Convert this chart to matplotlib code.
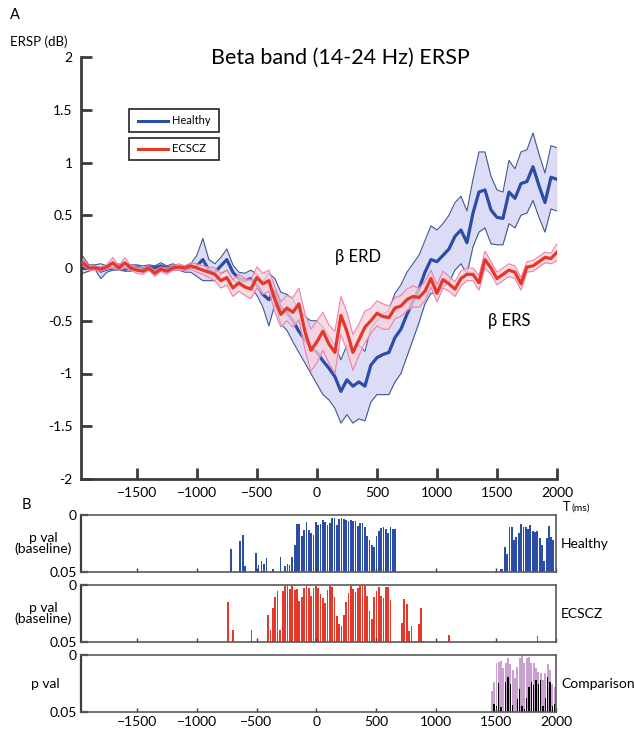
import numpy as np
import matplotlib
matplotlib.use("Agg")
import matplotlib.pyplot as plt
from matplotlib.patches import Rectangle
from matplotlib.lines import Line2D

plt.rcParams['font.family'] = ['Lato', 'DejaVu Sans']

# ---------------- data ----------------
time_ms = np.arange(-1950, 2001, 50)

healthy_mean = [0.03, 0.0, 0.01, -0.03, -0.01, 0.0, 0.01, -0.01, 0.0, 0.01,
                -0.01, 0.01, 0.0, 0.02, 0.0, 0.01, 0.0, -0.01, 0.0, 0.02,
                0.08, -0.02, -0.04, 0.02, 0.08, -0.04, -0.1, -0.12, -0.1, -0.16,
                -0.25, -0.3, -0.22, -0.38, -0.42, -0.5, -0.6, -0.68, -0.75, -0.8,
                -0.88, -0.95, -1.03, -1.17, -1.06, -1.12, -1.08, -1.12, -0.92, -0.85,
                -0.82, -0.8, -0.66, -0.58, -0.44, -0.32, -0.2, -0.04, 0.08, 0.06,
                0.12, 0.18, 0.3, 0.36, 0.24, 0.52, 0.72, 0.74, 0.55, 0.48,
                0.47, 0.72, 0.66, 0.8, 0.82, 0.96, 0.78, 0.62, 0.86, 0.84]
healthy_sem = [0.08, 0.03, 0.02, 0.07, 0.03, 0.02, 0.03, 0.02, 0.03, 0.02,
               0.03, 0.02, 0.02, 0.03, 0.02, 0.03, 0.02, 0.03, 0.04, 0.1,
               0.2, 0.1, 0.08, 0.08, 0.1, 0.07, 0.06, 0.07, 0.08, 0.1,
               0.12, 0.25, 0.12, 0.15, 0.17, 0.2, 0.2, 0.22, 0.25, 0.3,
               0.32, 0.3, 0.3, 0.3, 0.33, 0.35, 0.35, 0.33, 0.35, 0.35,
               0.38, 0.4, 0.42, 0.42, 0.4, 0.36, 0.32, 0.3, 0.32, 0.3,
               0.3, 0.32, 0.32, 0.32, 0.3, 0.32, 0.38, 0.36, 0.32, 0.26,
               0.25, 0.3, 0.28, 0.3, 0.3, 0.32, 0.3, 0.28, 0.3, 0.3]
ecscz_mean = [0.05, 0.0, 0.0, -0.01, 0.01, 0.05, 0.0, 0.05, 0.0, -0.02,
              -0.03, 0.0, -0.05, -0.01, -0.03, 0.0, 0.01, 0.0, 0.02, 0.0,
              -0.02, -0.04, -0.06, -0.12, -0.09, -0.19, -0.14, -0.18, -0.2, -0.09,
              -0.15, -0.12, -0.3, -0.44, -0.38, -0.42, -0.34, -0.6, -0.78, -0.7,
              -0.6, -0.72, -0.8, -0.45, -0.6, -0.8, -0.68, -0.56, -0.5, -0.43,
              -0.46, -0.47, -0.38, -0.36, -0.3, -0.27, -0.28, -0.22, -0.1, -0.24,
              -0.11, -0.15, -0.2, -0.1, -0.06, -0.06, -0.14, 0.08, 0.0, -0.1,
              -0.06, -0.02, -0.04, -0.15, 0.01, 0.02, 0.06, 0.1, 0.09, 0.15]
ecscz_sem = [0.03, 0.02, 0.02, 0.02, 0.02, 0.05, 0.02, 0.05, 0.02, 0.03,
             0.03, 0.02, 0.03, 0.02, 0.03, 0.02, 0.03, 0.02, 0.03, 0.04,
             0.04, 0.05, 0.06, 0.07, 0.07, 0.08, 0.08, 0.08, 0.09, 0.1,
             0.1, 0.1, 0.12, 0.12, 0.12, 0.14, 0.15, 0.17, 0.2, 0.2,
             0.18, 0.18, 0.2, 0.18, 0.18, 0.17, 0.15, 0.15, 0.12, 0.12,
             0.12, 0.11, 0.1, 0.1, 0.1, 0.1, 0.09, 0.09, 0.08, 0.08,
             0.08, 0.07, 0.07, 0.07, 0.06, 0.06, 0.07, 0.08, 0.06, 0.06,
             0.06, 0.06, 0.06, 0.06, 0.05, 0.05, 0.05, 0.05, 0.05, 0.08]

healthy_p_t = [-715, -640, -616, -596, -503, -483, -459, -439, -417, -360,
               -299, -260, -241, -225, -202, -180, -161, -142,
               -123, -103, -83, -64, -44, -25, -5, 14, 34, 53, 73, 92, 112, 131,
               151, 170, 190, 209, 229, 248, 268, 287, 307, 326, 346, 365, 385,
               404, 424, 443, 463, 482, 502, 521, 541, 560, 580, 599, 619, 638, 658,
               1539, 1553, 1572, 1592, 1611, 1631, 1650, 1669, 1689, 1708, 1728, 1747,
               1767, 1786, 1806, 1825, 1844, 1864, 1883, 1903, 1922, 1942, 1961, 1975]
healthy_p = [0.030, 0.023, 0.0175, 0.045, 0.033, 0.044, 0.040, 0.043, 0.0375, 0.047,
             0.037, 0.045, 0.043, 0.044, 0.037, 0.026, 0.008, 0.008,
             0.0185, 0.0132, 0.0059, 0.0132, 0.0162, 0.0176, 0.0059, 0.0088, 0.0082, 0.0044,
             0.0059, 0.0088, 0.0074, 0.0029, 0.0029, 0.0088, 0.0035, 0.0029, 0.0038, 0.0044,
             0.005, 0.0044, 0.0053, 0.005, 0.0094, 0.0068, 0.0074, 0.0109, 0.0185, 0.0215,
             0.0259, 0.0279, 0.0185, 0.0141, 0.0118, 0.0109, 0.0126, 0.0162, 0.0109, 0.0126,
             0.0126,
             0.0476, 0.047, 0.0285, 0.0338, 0.0103, 0.0103, 0.0215, 0.0197, 0.0162, 0.0079,
             0.0103, 0.0103, 0.0126, 0.0088, 0.0138, 0.0147, 0.0138, 0.0206, 0.0265, 0.0406,
             0.0200, 0.0097, 0.0197, 0.0215]

ecscz_p_t = [-740, -698, -541, -522, -404, -384, -362, -343, -324, -302, -282, -260,
             -241, -222, -202, -180, -161,
             -142, -122, -103, -83, -64, -44, -25, -5, 14, 34, 53, 73, 92, 112, 131,
             151, 170, 190, 209, 229, 248, 268, 287, 307, 326, 346, 365, 385, 404, 424,
             443, 463, 482, 502, 521, 541, 560, 580, 599, 619,
             714, 734, 753, 772, 794, 813, 854, 874, 893, 1110, 1846]
ecscz_p = [0.0153, 0.0397, 0.0397, 0.049, 0.0265, 0.0397, 0.0206, 0.0109, 0.0053, 0.0397,
           0.0053, 0.0006, 0.0003, 0.0035, 0.0006, 0.0044, 0.0035,
           0.0141, 0.0103, 0.0029, 0.0009, 0.0024, 0.0094, 0.0024, 0.0009, 0.0029, 0.0082,
           0.0118, 0.0162, 0.0044, 0.0009, 0.0015, 0.0103, 0.0271, 0.0338, 0.0362, 0.0259,
           0.0147, 0.0074, 0.0009, 0.0035, 0.0059, 0.0029, 0.0009, 0.0003, 0.0009, 0.0094,
           0.0229, 0.0294, 0.0103, 0.005, 0.0015, 0.0094, 0.0118, 0.0015, 0.0015, 0.0132,
           0.0332, 0.0126, 0.0171, 0.0406, 0.036, 0.049, 0.0338, 0.0206, 0.0488, 0.0435, 0.045]

comp_t = [1464, 1483, 1503, 1522, 1542, 1561, 1581, 1600, 1619, 1639, 1658, 1678, 1697, 1717,
          1736, 1756, 1775, 1794, 1814, 1833, 1853, 1872, 1892, 1911, 1931, 1950, 1969, 1989]
comp_p = [0.032, 0.0235, 0.0074, 0.0059, 0.005, 0.0118, 0.0074, 0.003, 0.0079, 0.013,
          0.0206, 0.0103, 0.003, 0.0009, 0.0074, 0.003, 0.0015, 0.0074, 0.0068, 0.0118,
          0.0147, 0.0162, 0.022, 0.0162, 0.0079, 0.0132, 0.025, 0.0279]
comp_p_corr = [np.nan, 0.0426, 0.045, 0.0244, 0.046, np.nan, 0.0235, 0.019, 0.025, 0.044,
               np.nan, 0.039, 0.0294, 0.045, 0.047, 0.038, 0.028, 0.0235, 0.0265, 0.022,
               0.025, 0.0215, 0.045, 0.038, 0.019, 0.0235, 0.045, 0.0426]

x_ticks = [-1500, -1000, -500, 0, 500, 1000, 1500, 2000]
y_ticks = [-2, -1.5, -1, -0.5, 0, 0.5, 1, 1.5, 2]
y_tick_labels = ['-2', '-1.5', '-1', '-0.5', '0', '0.5', '1', '1.5', '2']

# ---------------- style ----------------
W, H = 634, 729
BLUE = '#2C4DA6'
BLUE_FILL = '#DCDCF6'
BLUE_EDGE = '#3D5A8C'
RED = '#E5372A'
RED_FILL = '#F9CFD9'
RED_EDGE = '#EE7FAE'
PINK = '#C9A0CF'
AX_COL = '#3C3C3C'
XMIN, XMAX = -1965, 2000


def fx(x):
    return x / W


def fy(y):
    return 1 - y / H


fig = plt.figure(figsize=(W / 100, H / 100), dpi=100)

# ---------------- panel A ----------------
ax = fig.add_axes([fx(81), fy(479), fx(557) - fx(81), fy(57) - fy(479)])
hm = np.array(healthy_mean)
hs = np.array(healthy_sem)
em = np.array(ecscz_mean)
es = np.array(ecscz_sem)

ax.fill_between(time_ms, hm - hs, hm + hs, color=BLUE_FILL, lw=0, zorder=1)
ax.plot(time_ms, hm + hs, color=BLUE_EDGE, lw=0.8, zorder=2)
ax.plot(time_ms, hm - hs, color=BLUE_EDGE, lw=0.8, zorder=2)
ax.plot(time_ms, hm, color=BLUE, lw=2.3, zorder=3)
ax.fill_between(time_ms, em - es, em + es, color=RED_FILL, alpha=0.75, lw=0, zorder=4)
ax.plot(time_ms, em + es, color=RED_EDGE, lw=0.8, zorder=5)
ax.plot(time_ms, em - es, color=RED_EDGE, lw=0.8, zorder=5)
ax.plot(time_ms, em, color=RED, lw=2.3, zorder=6)

ax.set_xlim(XMIN, XMAX)
ax.set_ylim(-2, 2)
ax.set_xticks(x_ticks)
ax.set_yticks(y_ticks)
ax.set_yticklabels(y_tick_labels)
for s in ['top', 'right']:
    ax.spines[s].set_visible(False)
for s in ['left', 'bottom']:
    ax.spines[s].set_color(AX_COL)
    ax.spines[s].set_linewidth(2.0)
ax.tick_params(direction='in', length=8, width=2.0, color=AX_COL, labelsize=10, pad=6)
ax.patch.set_alpha(0)

ax.text(345, 0.1, 'β ERD', fontsize=12, ha='center', va='center')
ax.text(1600, -0.5, 'β ERS', fontsize=12, ha='center', va='center')

fig.text(fx(340), fy(58), 'Beta band (14-24 Hz) ERSP', fontsize=15.5, ha='center', va='center')
fig.text(fx(10), fy(15), 'A', fontsize=10.5, ha='left', va='center')
fig.text(fx(10), fy(42), 'ERSP (dB)', fontsize=9.5, ha='left', va='center')
fig.text(fx(22), fy(505), 'B', fontsize=10.5, ha='left', va='center')
fig.text(fx(563), fy(507), 'T', fontsize=9, ha='left', va='center')
fig.text(fx(572), fy(508), '(ms)', fontsize=7.5, ha='left', va='center')

# legend boxes (two separate framed entries)
for (top, bot, col, lab) in [(109, 132, BLUE, 'Healthy'), (138, 160, RED, 'ECSCZ')]:
    fig.add_artist(Rectangle((fx(129), fy(bot)), fx(219) - fx(129), fy(top) - fy(bot),
                             transform=fig.transFigure, fill=False, ec='#222222', lw=1.2))
    yc = fy((top + bot) / 2)
    fig.add_artist(Line2D([fx(138), fx(168)], [yc, yc], transform=fig.transFigure,
                          color=col, lw=2.2))
    fig.text(fx(172), yc, lab, fontsize=8, ha='left', va='center')

# ---------------- panel B ----------------
panels = [(515, 572, 'Healthy', '(baseline)'), (585, 642, 'ECSCZ', '(baseline)'),
          (655, 712, 'Comparison', None)]
bax = []
for (top, bot, lab, sub) in panels:
    a = fig.add_axes([fx(81), fy(bot), fx(556) - fx(81), fy(top) - fy(bot)])
    a.set_xlim(XMIN, XMAX)
    a.set_ylim(0.05, 0)
    a.set_yticks([0, 0.05])
    a.set_yticklabels(['0', '0.05'])
    a.set_xticks(x_ticks)
    for s in a.spines.values():
        s.set_color('#5A5A5A')
        s.set_linewidth(1.2)
    a.spines['left'].set_color(AX_COL)
    a.spines['left'].set_linewidth(1.6)
    a.tick_params(axis='x', direction='in', length=3, width=1.0, color=AX_COL,
                  labelsize=10, pad=3)
    a.tick_params(axis='y', direction='in', length=5, width=1.6, color=AX_COL,
                  labelsize=10, pad=3)
    fig.text(fx(561), fy((top + bot) / 2), lab, fontsize=10, ha='left', va='center')
    if sub:
        fig.text(fx(43), fy((top + bot) / 2), 'p val\n(baseline)', fontsize=10,
                 ha='center', va='center', linespacing=0.85)
    else:
        fig.text(fx(45), fy((top + bot) / 2), 'p val', fontsize=10, ha='center', va='center')
    bax.append(a)

bax[0].bar(healthy_p_t, np.array(healthy_p) - 0.05, bottom=0.05, width=15,
           color=BLUE, lw=0)
bax[1].bar(ecscz_p_t, np.array(ecscz_p) - 0.05, bottom=0.05, width=15,
           color=RED, lw=0)
bax[2].bar(comp_t, np.array(comp_p) - 0.05, bottom=0.05, width=16, color=PINK, lw=0)
bax[2].bar(comp_t, np.array(comp_p_corr) - 0.05, bottom=0.05, width=11, color='black', lw=0)

bax[0].tick_params(axis='x', labelbottom=False)
bax[1].tick_params(axis='x', labelbottom=False)

fig.savefig('out.png', dpi=100)
